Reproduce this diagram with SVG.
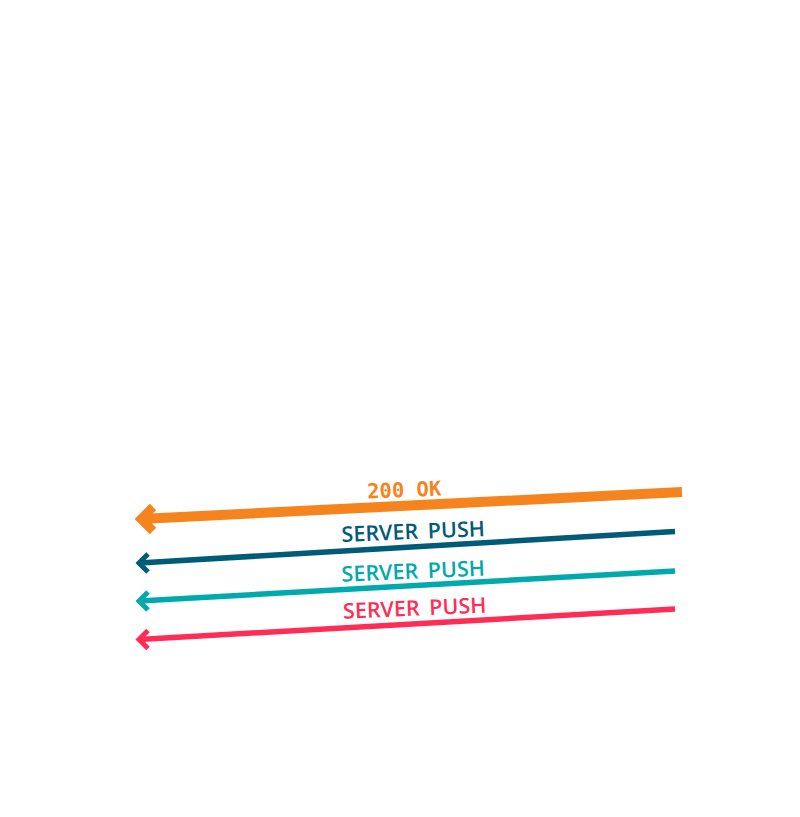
<svg xmlns="http://www.w3.org/2000/svg" width="800" height="817" viewBox="0 0 800 817">
<style>
.ln{fill:none;stroke-linejoin:miter;stroke-linecap:butt}
.o{stroke:#F5841F}
.d{stroke:#005B78}
.t{stroke:#00A9AC}
.r{stroke:#FF2D55}
.mono{font-family:"DejaVu Sans Mono","Liberation Mono",monospace;font-weight:bold;font-size:20.5px;text-anchor:middle}
.sans{font-family:"Open Sans","Noto Sans",sans-serif;font-weight:600;font-size:21.5px;text-anchor:middle;word-spacing:4px}
</style>
<rect width="800" height="817" fill="#fff"/>
<g id="connectors">
<g id="ok-arrow">
<line class="ln o" x1="682" y1="492" x2="141" y2="519" stroke-width="10"/>
<polyline class="ln o" points="153,507 141,519 153,531" stroke-width="9"/>
</g>
<g id="push1-arrow">
<line class="ln d" x1="675" y1="531.5" x2="139" y2="563" stroke-width="5.5"/>
<polyline class="ln d" points="148,554 139,563 148,572" stroke-width="5"/>
</g>
<g id="push2-arrow">
<line class="ln t" x1="675" y1="571" x2="139" y2="601" stroke-width="5.5"/>
<polyline class="ln t" points="148,592 139,601 148,610" stroke-width="5"/>
</g>
<g id="push3-arrow">
<line class="ln r" x1="675" y1="609" x2="139" y2="639.5" stroke-width="5.5"/>
<polyline class="ln r" points="148,630.5 139,639.5 148,648.5" stroke-width="5"/>
</g>
</g>
<g id="labels">
<text class="mono" fill="#F5841F" transform="translate(404.5,497) rotate(-2.4)">200 OK</text>
<text class="sans" fill="#005B78" transform="translate(413.5,539) rotate(-2.4)">SERVER PUSH</text>
<text class="sans" fill="#00A9AC" transform="translate(413.5,578.7) rotate(-2.4)">SERVER PUSH</text>
<text class="sans" fill="#FF2D55" transform="translate(415,615.7) rotate(-2.4)">SERVER PUSH</text>
</g>
</svg>
